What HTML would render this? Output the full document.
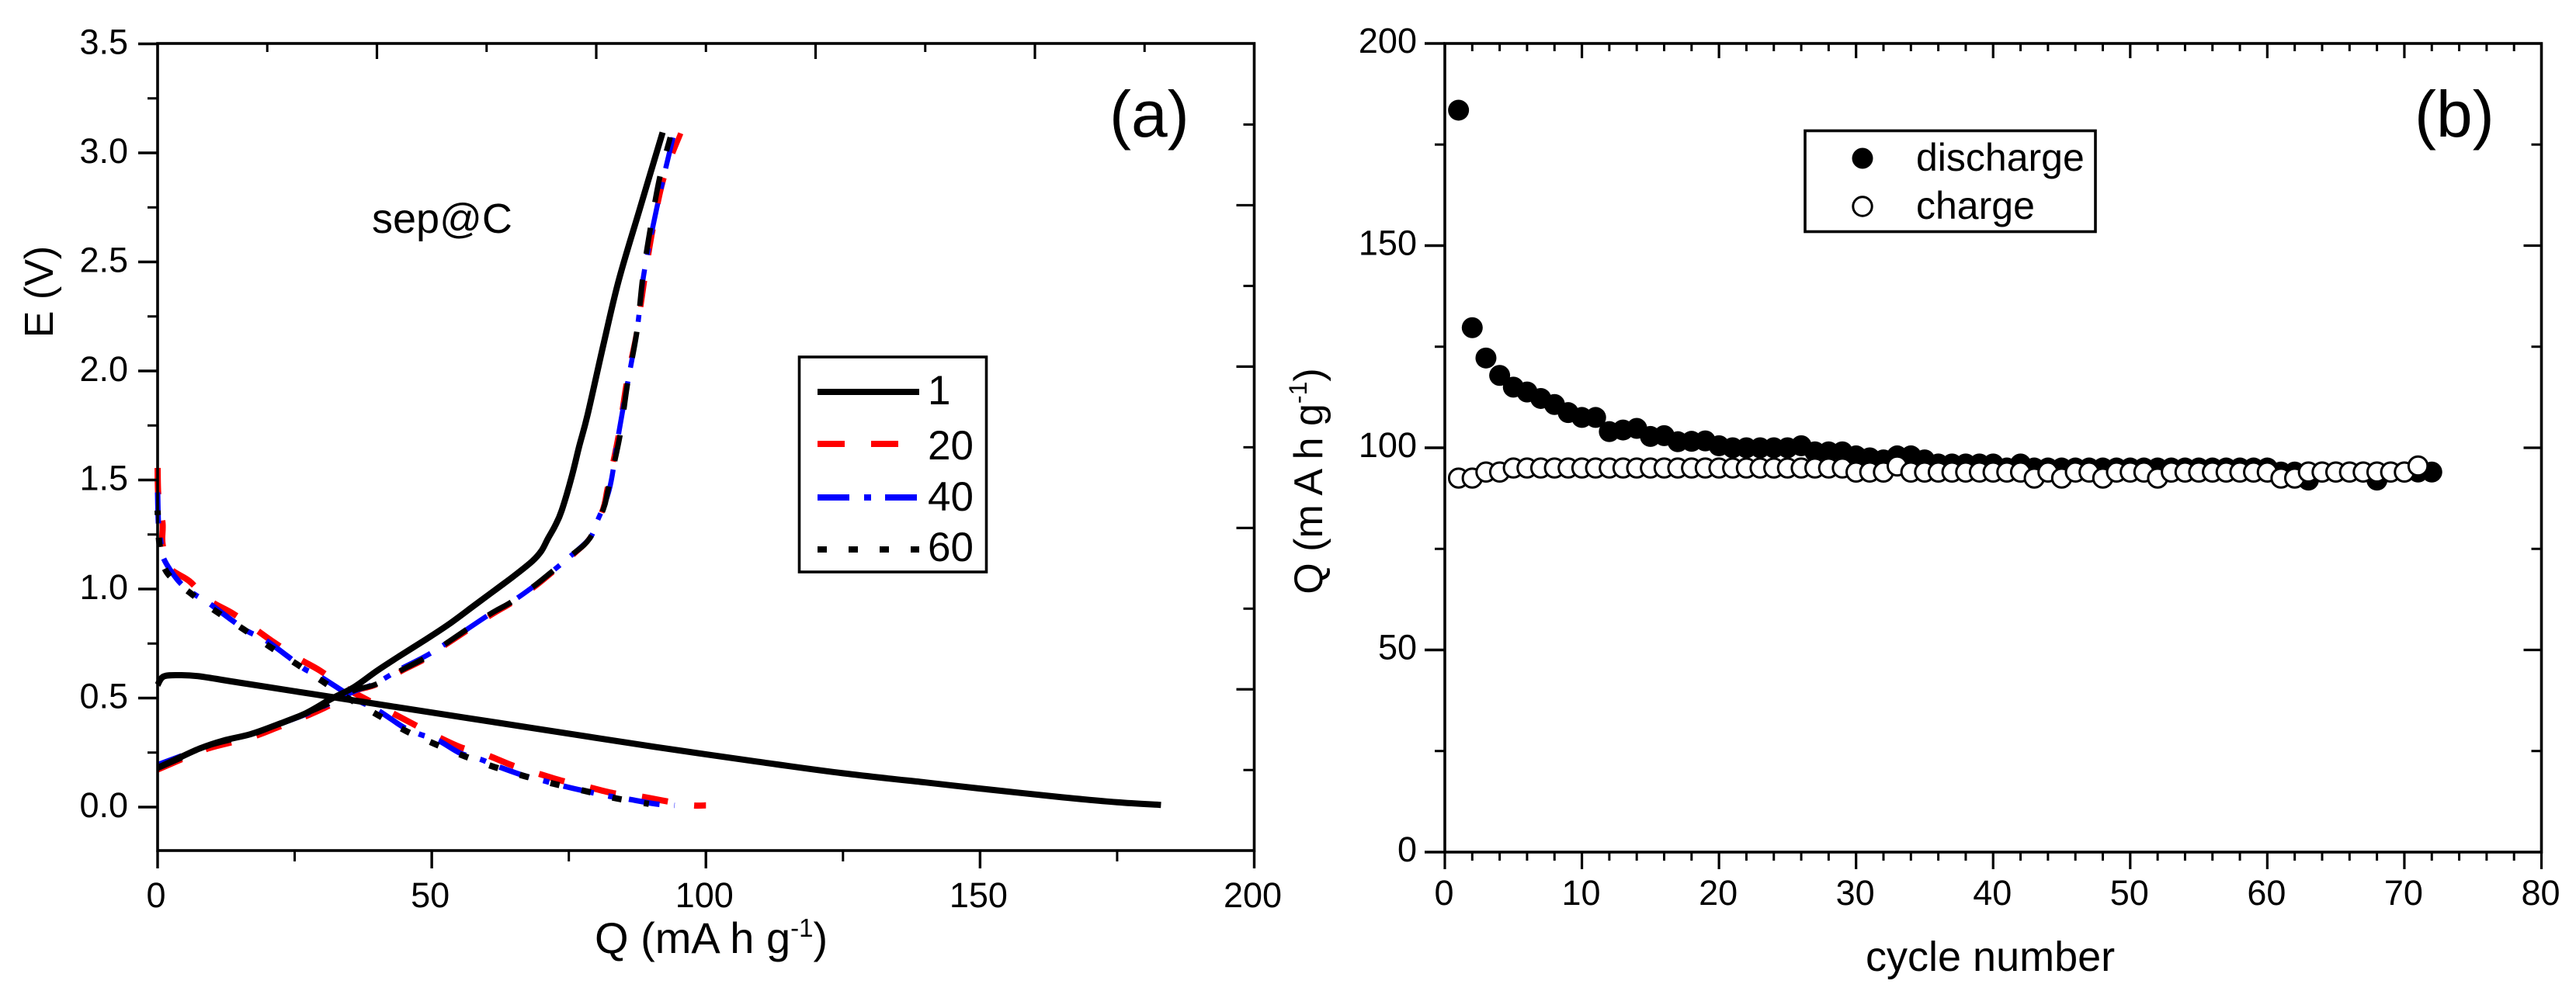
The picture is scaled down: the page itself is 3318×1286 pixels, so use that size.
<!DOCTYPE html>
<html lang="en">
<head>
<meta charset="utf-8">
<title>Electrochemical cycling charts</title>
<style>
  html, body { margin: 0; padding: 0; background: #ffffff; }
  body { width: 3318px; height: 1286px; overflow: hidden; }
  svg { display: block; }
  text { font-family: "Liberation Sans", Arial, sans-serif; fill: #000; }
</style>
</head>
<body>
<svg id="figure" xmlns="http://www.w3.org/2000/svg" width="3318" height="1286" viewBox="0 0 3318 1286">
  <rect x="0" y="0" width="3318" height="1286" fill="#ffffff"/>
  <g id="panel-a"></g>
  <g id="panel-b"></g>
</svg>
<script>
// ---------- Panel (a) data: voltage profile, [Q, E] ----------
const cycle1Charge = [[0,0.18],[3,0.215],[7.6,0.268],[12,0.305],[17,0.335],[22,0.38],[27,0.43],[31.5,0.494],[35.8,0.55],[40,0.625],[44.4,0.697],[49,0.77],[53.1,0.838],[57.5,0.92],[61.8,1.0],[65,1.06],[68.3,1.127],[70,1.175],[71.2,1.232],[72.5,1.29],[73.7,1.36],[75.5,1.513],[76.9,1.655],[78.4,1.797],[81.3,2.12],[84.1,2.416],[87.9,2.74],[92.1,3.094]];
const cycle1Discharge = [[0,0.56],[1.1,0.599],[4,0.605],[7.5,0.6],[14.8,0.571],[25.6,0.529],[33,0.5],[47.3,0.444],[61.8,0.388],[76.2,0.332],[90.7,0.276],[109.5,0.208],[125,0.155],[140,0.113],[150,0.085],[165,0.045],[175,0.022],[183,0.01]];

const cycle20Charge = [[0,0.17],[4.8,0.222],[9.3,0.268],[17,0.318],[22,0.365],[27,0.415],[31,0.46],[35.8,0.53],[39.8,0.56],[44.6,0.625],[48.9,0.68],[52.6,0.745],[60.5,0.875],[64.5,0.935],[68.5,1.005],[71.7,1.07],[75.7,1.155],[79,1.24],[81.2,1.367],[82,1.459],[84,1.701],[85.5,1.943],[87.4,2.181],[88.9,2.431],[90.4,2.658],[92.4,2.89],[95.4,3.09]];
const cycle40Charge = [[0,0.195],[4.8,0.24],[9.3,0.285],[17,0.335],[22,0.378],[27,0.425],[31,0.47],[35.8,0.53],[39.8,0.568],[44.4,0.635],[48.7,0.69],[52.4,0.747],[60.3,0.88],[64.3,0.937],[68.3,1.007],[71.5,1.071],[75.5,1.155],[78.8,1.232],[80,1.3],[82.4,1.459],[84,1.701],[85.7,1.943],[87.4,2.181],[88.6,2.431],[90.3,2.658],[92.3,2.89],[94,3.07]];
const cycle60Charge = [[0,0.178],[4.8,0.231],[9.3,0.282],[17,0.332],[22,0.38],[27,0.43],[31,0.473],[35.8,0.535],[39.8,0.563],[44.4,0.627],[48.7,0.683],[52.4,0.747],[60.3,0.88],[64.3,0.937],[68.3,1.007],[71.5,1.071],[75.5,1.155],[78.8,1.232],[81.3,1.367],[82.2,1.459],[84.3,1.701],[85.7,1.943],[87.4,2.181],[88.5,2.431],[89.9,2.658],[91.6,2.89],[93.5,3.071]];

const cycle20Discharge = [[0,1.555],[0.15,1.42],[0.9,1.3],[0.9,1.206],[2.1,1.1],[5.8,1.036],[9.3,0.95],[13.7,0.888],[17.7,0.818],[21.3,0.754],[25.6,0.683],[29.6,0.626],[34,0.55],[38,0.495],[42.3,0.438],[46.6,0.381],[50.9,0.325],[55.2,0.275],[59.9,0.24],[64.7,0.191],[69,0.157],[73.7,0.121],[78.4,0.093],[83.1,0.064],[87.8,0.05],[92.5,0.028],[97.5,0.008],[100,0.008]];
const cycle40Discharge = [[0,1.443],[0.15,1.3],[0.55,1.22],[1.1,1.14],[3.6,1.043],[6.1,0.986],[9.3,0.936],[13.7,0.854],[16.6,0.804],[19.5,0.769],[23.8,0.69],[26.8,0.633],[29.6,0.599],[36.1,0.495],[40.1,0.445],[44.8,0.367],[47.7,0.335],[51.3,0.304],[55.2,0.247],[58.9,0.219],[62.2,0.185],[67.1,0.142],[70.4,0.121],[74.1,0.096],[78.4,0.071],[82.4,0.05],[86,0.036],[90.7,0.015],[94.3,0.008]];
const cycle60Discharge = [[0,1.36],[0.35,1.204],[1.66,1.078],[6.1,0.979],[10.8,0.895],[15.7,0.815],[20.6,0.733],[25.4,0.655],[30,0.578],[34.7,0.5],[40.1,0.423],[45.3,0.349],[50.6,0.289],[56,0.233],[61.4,0.184],[66.9,0.142],[72.2,0.107],[78.4,0.071],[83.8,0.039],[89.6,0.015]];

const panelAXMajorTicks = [0, 50, 100, 150, 200];
const panelAXMinorTicks = [25, 75, 125, 175];
const panelAXTickLabels = ["0", "50", "100", "150", "200"];
const panelAYMajorTicks = [0, 0.5, 1, 1.5, 2, 2.5, 3, 3.5];
const panelAYMinorTicks = [0.25, 0.75, 1.25, 1.75, 2.25, 2.75, 3.25];
const panelAYTickLabels = ["0.0", "0.5", "1.0", "1.5", "2.0", "2.5", "3.0", "3.5"];
const panelATopLongTicks = [40, 80, 120, 160];
const panelATopShortTicks = [20, 60, 100, 140, 180];
const panelARightLongTicks = [0.54, 1.28, 2.02, 2.76];
const panelARightShortTicks = [0.17, 0.91, 1.65, 2.39, 3.13];
const panelALegendLabels = ["1", "20", "40", "60"];

// ---------- Panel (b) data: capacity vs cycle ----------
const dischargeCapacity = [183.5,129.7,122.2,117.9,115,113.8,112.2,110.7,108.7,107.5,107.5,104,104.4,104.8,102.8,103,101.5,101.6,101.7,100.5,100,100,100,100,100,100.5,99,99,99,98,97.5,97,98,98,97,96,96,96,96,96,95,96,95,95,95,95,95,95,95,95,95,95,95,95,95,95,95,95,95,95,94,94,92,94,94,94,94,92,94,94,94,94];
const chargeCapacity = [92.5,92.5,94,94,95,95,95,95,95,95,95,95,95,95,95,95,95,95,95,95,95,95,95,95,95,95,95,95,95,94,94,94,95.5,94,94,94,94,94,94,94,94,94,92.5,94,92.5,94,94,92.5,94,94,94,92.5,94,94,94,94,94,94,94,94,92.5,92.5,94,94,94,94,94,94,94,94,95.5];

const panelBXMajorTicks = [0, 10, 20, 30, 40, 50, 60, 70, 80];
const panelBXMinorTicks = [2,4,6,8,12,14,16,18,22,24,26,28,32,34,36,38,42,44,46,48,52,54,56,58,62,64,66,68,72,74,76,78];
const panelBXTickLabels = ["0","10","20","30","40","50","60","70","80"];
const panelBYMajorTicks = [0, 50, 100, 150, 200];
const panelBYMinorTicks = [25, 75, 125, 175];
const panelBYTickLabels = ["0","50","100","150","200"];

// ---------- Axis functions ----------
function xA(q) { return 203 + (q - 0) * (1615.5 - 203) / 200; }
function yA(e) { return 1040 - e * 281; }
function xB(c) { return 1861 + c * (3273.5 - 1861) / 80; }
function yB(q) { return 1098 - q * (1098 - 56) / 200; }

const NS = "http://www.w3.org/2000/svg";
function mk(parent, tag, props, content) {
  const el = document.createElementNS(NS, tag);
  for (const k in props) el.setAttribute(k, props[k]);
  if (content !== undefined) el.textContent = content;
  parent.appendChild(el);
  return el;
}
function tickLine(parent, x1, y1, x2, y2, w, label) {
  const el = mk(parent, "line", {x1: x1, y1: y1, x2: x2, y2: y2, stroke: "#000", "stroke-width": w});
  
  
  return el;
}
function label(parent, x, y, size, anchor, str, name) {
  const el = mk(parent, "text", {x: x, y: y, "font-size": size, "text-anchor": anchor}, str);
  
  
  return el;
}
// Smooth curve through the data points (Catmull-Rom to cubic Bezier)
function linePath(pts) {
  const p = pts.map(function (d) { return [xA(d[0]), yA(d[1])]; });
  let s = "M" + p[0][0].toFixed(1) + " " + p[0][1].toFixed(1);
  for (let i = 0; i < p.length - 1; i++) {
    const a = p[Math.max(i - 1, 0)], b = p[i], c = p[i + 1], d = p[Math.min(i + 2, p.length - 1)];
    const c1x = b[0] + (c[0] - a[0]) / 6, c1y = b[1] + (c[1] - a[1]) / 6;
    const c2x = c[0] - (d[0] - b[0]) / 6, c2y = c[1] - (d[1] - b[1]) / 6;
    s += " C" + c1x.toFixed(1) + " " + c1y.toFixed(1) + " " + c2x.toFixed(1) + " " + c2y.toFixed(1) + " " + c[0].toFixed(1) + " " + c[1].toFixed(1);
  }
  return s;
}

// ---------- Panel A ----------
const gA = document.getElementById("panel-a");
const curvesA = [
  {name: "cycle-20-charge", pts: cycle20Charge, color: "#ff0000", w: 7, dash: "34 33.5", off: 0},
  {name: "cycle-20-discharge", pts: cycle20Discharge, color: "#ff0000", w: 8, dash: "34 34", off: 0},
  {name: "cycle-40-charge", pts: cycle40Charge, color: "#0000ff", w: 6.5, dash: "41 19 9 18", off: 8},
  {name: "cycle-40-discharge", pts: cycle40Discharge, color: "#0000ff", w: 7, dash: "40 19 8 19", off: 0},
  {name: "cycle-60-charge", pts: cycle60Charge, color: "#000000", w: 7, dash: "34 33.5", off: 0},
  {name: "cycle-60-discharge", pts: cycle60Discharge, color: "#000000", w: 8, dash: "12 29", off: 6},
  {name: "cycle-1-charge", pts: cycle1Charge, color: "#000000", w: 8, dash: "none", off: 0},
  {name: "cycle-1-discharge", pts: cycle1Discharge, color: "#000000", w: 8, dash: "none", off: 0}
];
curvesA.forEach(function (c) {
  const p = mk(gA, "path", {d: linePath(c.pts), fill: "none", stroke: c.color, "stroke-width": c.w, "stroke-dasharray": c.dash, "stroke-dashoffset": c.off});
  
  
});

const frameA = mk(gA, "rect", {x: xA(0), y: 56, width: xA(200) - xA(0), height: 1096 - 56, fill: "none", stroke: "#000", "stroke-width": 3.6});



panelAXMajorTicks.forEach(function (v, i) {
  tickLine(gA, xA(v), 1096, xA(v), 1119, 3.4, "x-major-tick-a");
  label(gA, xA(v) - 2, 1169, 45, "middle", panelAXTickLabels[i], "x-tick-label-a");
});
panelAXMinorTicks.forEach(function (v) { tickLine(gA, xA(v), 1096, xA(v), 1110, 3, "x-minor-tick-a"); });
panelAYMajorTicks.forEach(function (v, i) {
  tickLine(gA, xA(0) - 25, yA(v), xA(0), yA(v), 3.4, "y-major-tick-a");
  label(gA, 165, yA(v) + 13, 45, "end", panelAYTickLabels[i], "y-tick-label-a");
});
panelAYMinorTicks.forEach(function (v) { tickLine(gA, xA(0) - 13, yA(v), xA(0), yA(v), 3, "y-minor-tick-a"); });
panelATopLongTicks.forEach(function (v) { tickLine(gA, xA(v), 56, xA(v), 76, 3.2, "top-long-tick-a"); });
panelATopShortTicks.forEach(function (v) { tickLine(gA, xA(v), 56, xA(v), 67, 3, "top-short-tick-a"); });
panelARightLongTicks.forEach(function (v) { tickLine(gA, xA(200) - 23, yA(v), xA(200), yA(v), 3.2, "right-long-tick-a"); });
panelARightShortTicks.forEach(function (v) { tickLine(gA, xA(200) - 14, yA(v), xA(200), yA(v), 3, "right-short-tick-a"); });

const xTitleA = label(gA, 766, 1228, 56, "start", "Q (mA h g", "x-axis-title-a");
const supA = mk(xTitleA, "tspan", {dy: -21, "font-size": 33}, "-1");


const closeA = mk(xTitleA, "tspan", {dy: 21}, ")");



const yTitleA = label(gA, 0, 0, 52, "middle", "E (V)", "y-axis-title-a");
yTitleA.setAttribute("transform", "translate(68 376) rotate(-90)");

label(gA, 479, 300, 54, "start", "sep@C", "sample-label");
label(gA, 1429, 176, 84, "start", "(a)", "panel-label-a");

const legA = mk(gA, "rect", {x: 1029.5, y: 460, width: 241, height: 277, fill: "#fff", stroke: "#000", "stroke-width": 3.6});


const legendStyleA = [
  {color: "#000", dash: "none", y: 505, base: 521},
  {color: "#ff0000", dash: "35 34", y: 572, base: 592},
  {color: "#0000ff", dash: "41 19 9 18", y: 641, base: 658},
  {color: "#000", dash: "12 28", y: 708, base: 723}
];
legendStyleA.forEach(function (s, i) {
  const l = mk(gA, "line", {x1: 1053, y1: s.y, x2: 1184, y2: s.y, stroke: s.color, "stroke-width": 8, "stroke-dasharray": s.dash});
  
  
  label(gA, 1195, s.base, 53, "start", panelALegendLabels[i], "legend-a-label");
});

// ---------- Panel B ----------
const gB = document.getElementById("panel-b");
const frameB = mk(gB, "rect", {x: xB(0), y: 56, width: xB(80) - xB(0), height: 1098 - 56, fill: "none", stroke: "#000", "stroke-width": 3.6});



panelBXMajorTicks.forEach(function (v, i) {
  tickLine(gB, xB(v), 1098, xB(v), 1120, 3.2, "x-major-tick-b");
  label(gB, xB(v) - 1, 1166, 45, "middle", panelBXTickLabels[i], "x-tick-label-b");
  if (v > 0 && v < 80) tickLine(gB, xB(v), 56, xB(v), 75, 3.2, "top-major-tick-b");
});
panelBXMinorTicks.forEach(function (v) {
  tickLine(gB, xB(v), 1098, xB(v), 1109, 3, "x-minor-tick-b");
  tickLine(gB, xB(v), 56, xB(v), 66, 3, "top-minor-tick-b");
});
panelBYMajorTicks.forEach(function (v, i) {
  tickLine(gB, xB(0) - 26, yB(v), xB(0), yB(v), 3.4, "y-major-tick-b");
  label(gB, 1825, yB(v) + 12, 45, "end", panelBYTickLabels[i], "y-tick-label-b");
  if (v > 0 && v < 200) tickLine(gB, xB(80) - 23, yB(v), xB(80), yB(v), 3.2, "right-major-tick-b");
});
panelBYMinorTicks.forEach(function (v) {
  tickLine(gB, xB(0) - 13, yB(v), xB(0), yB(v), 3, "y-minor-tick-b");
  tickLine(gB, xB(80) - 13, yB(v), xB(80), yB(v), 3, "right-minor-tick-b");
});

dischargeCapacity.forEach(function (v, i) {
  const c = mk(gB, "circle", {cx: xB(i + 1), cy: yB(v), r: 13.5, fill: "#000"});
  
  
});
chargeCapacity.forEach(function (v, i) {
  const c = mk(gB, "circle", {cx: xB(i + 1), cy: yB(v), r: 12.2, fill: "#fff", stroke: "#000", "stroke-width": 3});
  
  
});

label(gB, 2403, 1251, 54, "start", "cycle number", "x-axis-title-b");
const yTitleB = label(gB, 0, 0, 52, "middle", "Q (m A h g", "y-axis-title-b");
yTitleB.setAttribute("transform", "translate(1703 620) rotate(-90)");
const supB = mk(yTitleB, "tspan", {dy: -20, "font-size": 32}, "-1");


const closeB = mk(yTitleB, "tspan", {dy: 20}, ")");



label(gB, 3110, 176, 84, "start", "(b)", "panel-label-b");

const legB = mk(gB, "rect", {x: 2325, y: 168.5, width: 374, height: 130, fill: "#fff", stroke: "#000", "stroke-width": 3.6});


const legDis = mk(gB, "circle", {cx: 2399, cy: 204, r: 13.5, fill: "#000"});


const legCha = mk(gB, "circle", {cx: 2399, cy: 266, r: 12.2, fill: "#fff", stroke: "#000", "stroke-width": 3});


label(gB, 2468, 220, 50, "start", "discharge", "legend-discharge-label");
label(gB, 2468, 282, 50, "start", "charge", "legend-charge-label");
</script>
</body>
</html>
